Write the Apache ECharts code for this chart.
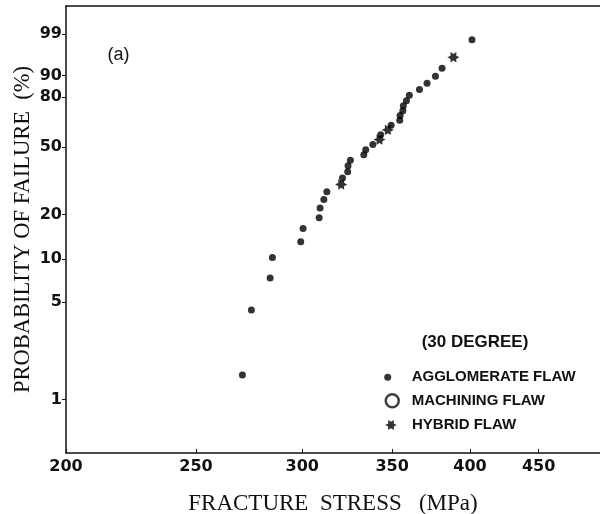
<!DOCTYPE html>
<html><head><meta charset="utf-8">
<script src="https://cdn.jsdelivr.net/npm/echarts@6/dist/echarts.min.js"></script>
<style>html,body{margin:0;padding:0;background:#fff}#c{width:600px;height:514px}</style>
</head><body><div id="c"></div>
<script>
// Tick labels
const xTickValues = [200, 250, 300, 350, 400, 450];
const yTickValues = [1, 5, 10, 20, 50, 80, 90, 99];

// Agglomerate flaw (filled dots): fracture stress (MPa), probability of failure (%)
const aggStress = [270.7, 274.9, 283.9, 285.0, 299.2, 300.4, 308.8, 309.3, 311.3, 312.9,
                   321.4, 324.3, 324.5, 325.8, 333.4, 334.5, 338.6, 343.2, 349.4, 354.6,
                   354.8, 356.5, 356.8, 358.7, 360.5, 366.8, 371.6, 377.0, 381.3, 401.4];
const aggProb   = [1.5, 4.4, 7.4, 10.3, 13.2, 16.2, 19.1, 22.1, 25.0, 27.9,
                   33.8, 36.8, 39.7, 42.6, 45.6, 48.5, 51.5, 57.4, 63.2, 66.2,
                   69.1, 72.1, 75.0, 77.9, 80.9, 83.8, 86.8, 89.7, 92.6, 98.5];

// Machining flaw (open circles): none in this panel
const macStress = [];
const macProb   = [];

// Hybrid flaw (stars)
const hybStress = [320.7, 342.5, 347.4, 388.8];
const hybProb   = [30.9, 54.4, 60.3, 95.6];

// Weibull paper transforms
const fx = s => Math.log(s);
const fy = p => Math.log(-Math.log(1 - p / 100));
const pairs = (xs, ys) => xs.map((x, i) => [fx(x), fy(ys[i])]);

const STAR = 'path://M20,10L14.76,12.75L15,18.66L10,15.5L5,18.66L5.24,12.75L0,10L5.24,7.25L5,1.34L10,4.5L15,1.34L14.76,7.25Z';
const ink = '#111';
const legendText = {fontFamily: 'Liberation Sans', fontWeight: 'bold', fontSize: 15, color: ink, lineHeight: 16};

const chart = echarts.init(document.getElementById('c'), null, {renderer: 'canvas'});
chart.setOption({
  animation: false,
  backgroundColor: '#fff',
  grid: {left: 66, right: 0, top: 6, bottom: 61, containLabel: false, outerBoundsMode: 'none'},
  xAxis: [{
    type: 'value', min: fx(200), max: fx(500), position: 'bottom',
    name: 'FRACTURE  STRESS   (MPa)', nameLocation: 'middle', nameGap: 39, nameMoveOverlap: false,
    nameTextStyle: {fontFamily: 'Liberation Serif', fontSize: 23, color: ink},
    axisLine: {show: true, onZero: false, lineStyle: {color: ink, width: 1.5}},
    axisTick: {show: true, inside: true, length: 4, customValues: xTickValues.map(fx), lineStyle: {color: ink, width: 1}},
    axisLabel: {customValues: xTickValues.map(fx), formatter: v => String(Math.round(Math.exp(v))),
                margin: 6, fontFamily: 'DejaVu Sans', fontWeight: 'bold', fontSize: 16, color: ink},
    splitLine: {show: false}
  }, {
    type: 'value', min: fx(200), max: fx(500), position: 'top',
    axisLine: {show: true, onZero: false, lineStyle: {color: ink, width: 1.5}},
    axisTick: {show: false}, axisLabel: {show: false}, splitLine: {show: false}
  }],
  yAxis: {
    type: 'value', min: -5.5, max: 2.0,
    name: 'PROBABILITY OF FAILURE  (%)', nameLocation: 'middle', nameGap: 31, nameMoveOverlap: false,
    nameTextStyle: {fontFamily: 'Liberation Serif', fontSize: 22.5, color: ink},
    axisLine: {show: true, onZero: false, lineStyle: {color: ink, width: 1.5}},
    axisTick: {show: true, inside: false, length: 4, customValues: yTickValues.map(fy), lineStyle: {color: ink, width: 1}},
    axisLabel: {customValues: yTickValues.map(fy),
                formatter: v => String(Math.round(100 * (1 - Math.exp(-Math.exp(v))))),
                margin: 4, fontFamily: 'DejaVu Sans', fontWeight: 'bold', fontSize: 16, color: ink},
    splitLine: {show: false}
  },
  legend: [
    {data: ['AGGLOMERATE FLAW'], selectedMode: false, left: 384.2, top: 369.3, padding: 0,
     itemWidth: 38, itemHeight: 7, icon: 'circle', itemStyle: {color: '#000'}, textStyle: legendText},
    {data: ['MACHINING FLAW'], selectedMode: false, left: 384.5, top: 392.7, padding: 0,
     itemWidth: 28.8, itemHeight: 13, icon: 'circle',
     itemStyle: {color: '#fff', borderColor: ink, borderWidth: 2.5}, textStyle: legendText},
    {data: ['HYBRID FLAW'], selectedMode: false, left: 385.2, top: 417, padding: 0,
     itemWidth: 32, itemHeight: 10, icon: STAR, itemStyle: {color: '#000'}, textStyle: legendText}
  ],
  graphic: [
    {type: 'text', x: 118.5, y: 55, style: {text: '(a)', fontFamily: 'Liberation Sans', fontSize: 18,
      fill: ink, align: 'center', verticalAlign: 'middle', textAlign: 'center', textVerticalAlign: 'middle'}},
    {type: 'text', x: 475, y: 342, style: {text: '(30 DEGREE)', fontFamily: 'Liberation Sans', fontWeight: 'bold', fontSize: 17,
      fill: ink, align: 'center', verticalAlign: 'middle', textAlign: 'center', textVerticalAlign: 'middle'}}
  ],
  series: [
    {name: 'AGGLOMERATE FLAW', type: 'scatter', data: pairs(aggStress, aggProb),
     symbol: 'circle', symbolSize: 7, itemStyle: {color: '#000'}},
    {name: 'MACHINING FLAW', type: 'scatter', data: pairs(macStress, macProb),
     symbol: 'circle', symbolSize: 13, itemStyle: {color: '#fff', borderColor: ink, borderWidth: 2.5}},
    {name: 'HYBRID FLAW', type: 'scatter', data: pairs(hybStress, hybProb),
     symbol: STAR, symbolSize: [12, 10.4], itemStyle: {color: '#000'}}
  ]
});
</script></body></html>
